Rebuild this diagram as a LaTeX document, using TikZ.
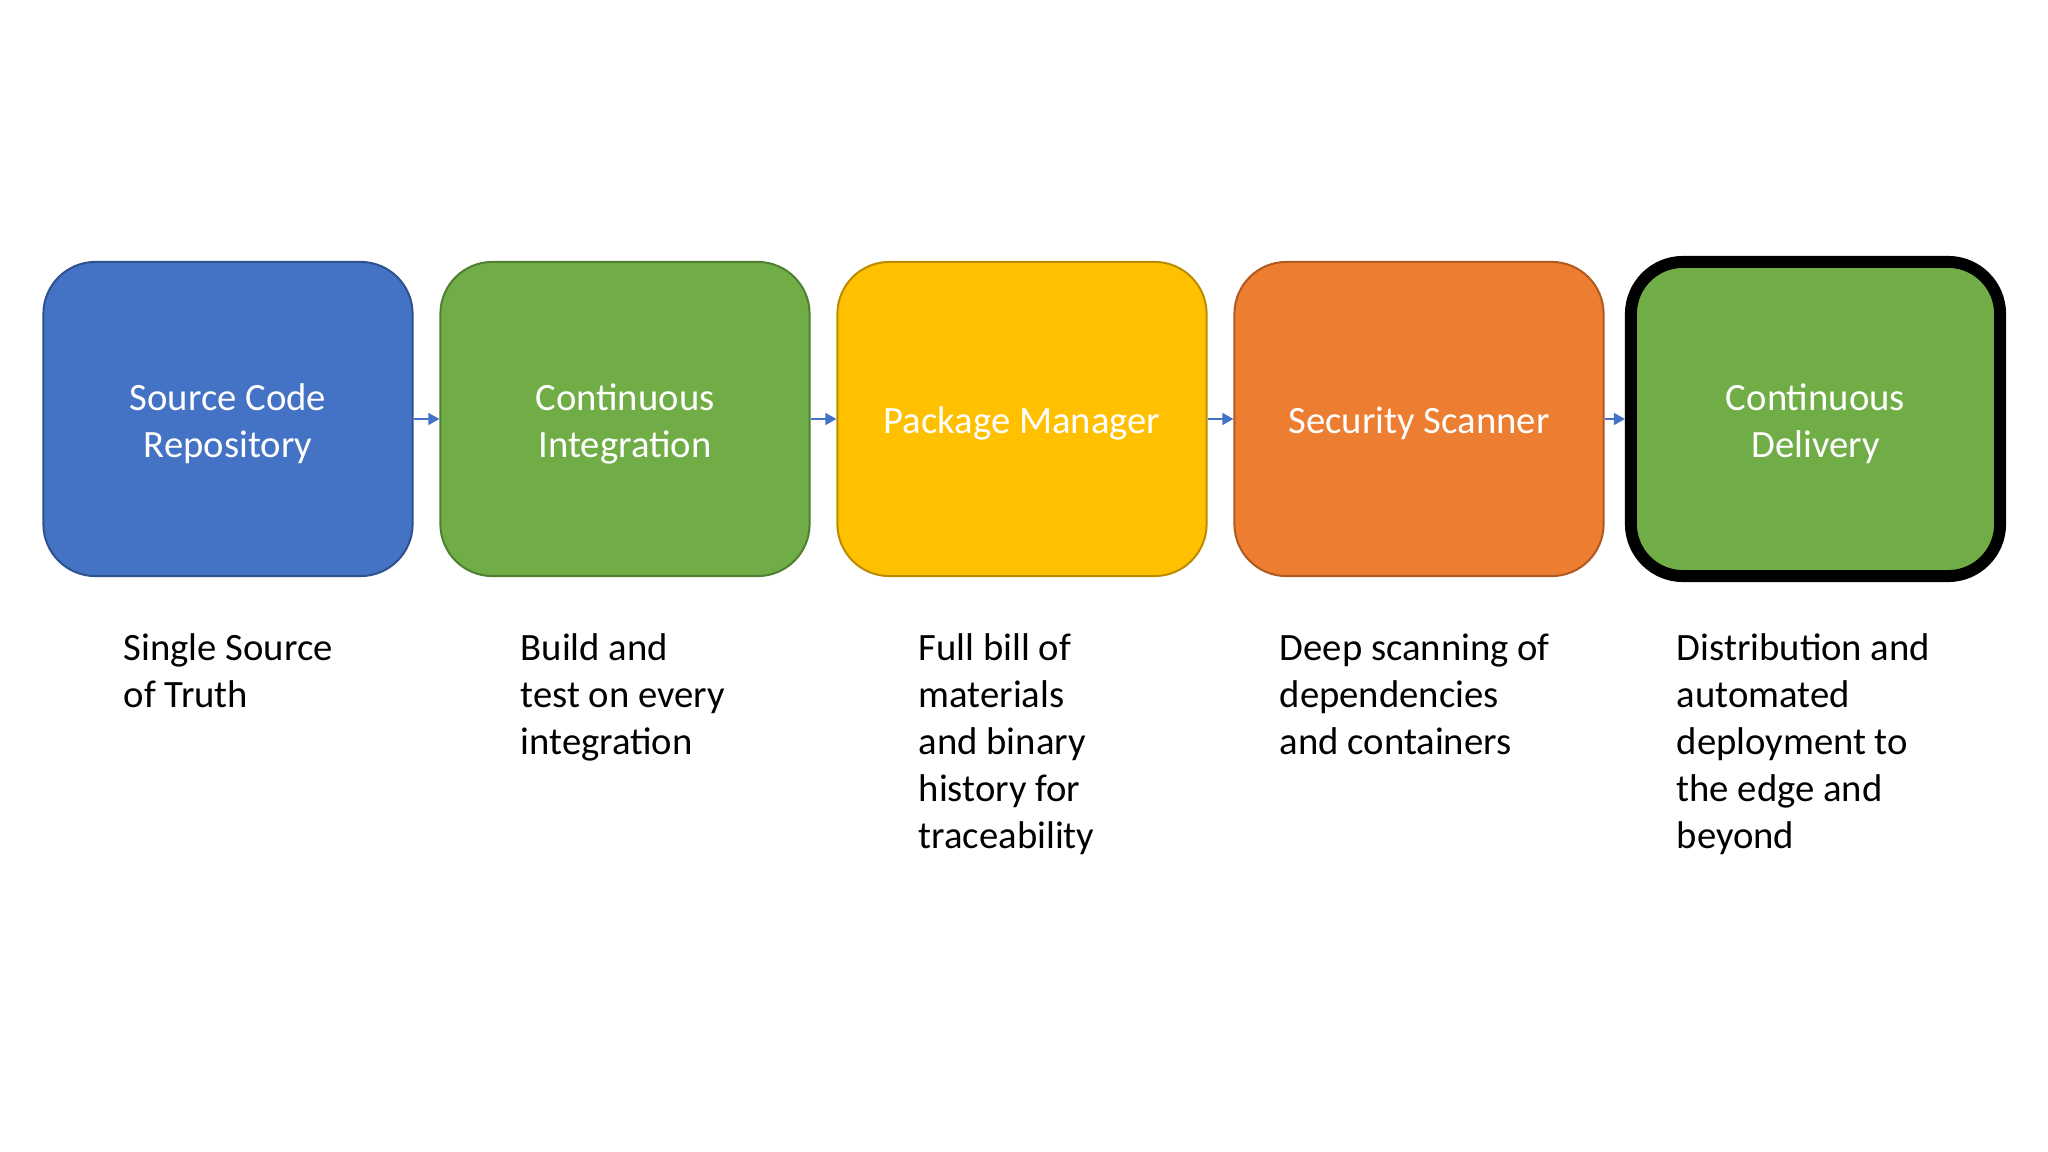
\documentclass[tikz,border=0pt]{standalone}
\usepackage{fontspec}
\setmainfont{Carlito}
\usetikzlibrary{arrows.meta}
\definecolor{cblue}{HTML}{4472C4}
\definecolor{cbluel}{HTML}{2F528F}
\definecolor{cgreen}{HTML}{70AD47}
\definecolor{cgreenl}{HTML}{507E32}
\definecolor{cyellow}{HTML}{FFC000}
\definecolor{cyellowl}{HTML}{BC8C00}
\definecolor{corange}{HTML}{ED7D31}
\definecolor{corangel}{HTML}{AE5A21}
\newcommand{\boxtxt}[1]{\raisebox{-1.5pt}[\height][\depth]{\begin{tabular}{@{}c@{}}#1\end{tabular}}}
\newcommand{\desctxt}[1]{\begin{tabular}[t]{@{}l@{}}#1\end{tabular}}
\tikzset{
  stagebox/.style={rectangle, rounded corners=0.52cm, minimum width=3.69cm, minimum height=3.14cm,
    text=white, font=\fontsize{11pt}{13.4pt}\selectfont, line width=0.57pt, inner sep=0pt},
  desc/.style={anchor=base west, inner sep=0pt, font=\fontsize{11pt}{13.4pt}\selectfont, text=black},
  arr/.style={draw=cblue, line width=0.45pt, -{Triangle[length=0.11cm,width=0.12cm]}}
}
\begin{document}
\begin{tikzpicture}[x=0.01cm,y=-0.01cm]
\useasboundingbox[fill=white] (0,0) rectangle (2048,1152);
\node[stagebox, fill=cblue, draw=cbluel] (b1) at (228,419) {\boxtxt{Source Code\\Repository}};
\node[stagebox, fill=cgreen, draw=cgreenl] (b2) at (625,419) {\boxtxt{Continuous\\Integration}};
\node[stagebox, fill=cyellow, draw=cyellowl] (b3) at (1022,419) {\boxtxt{Package Manager}};
\node[stagebox, fill=corange, draw=corangel] (b4) at (1419,419) {\boxtxt{Security Scanner}};
\node[stagebox, fill=cgreen, draw=black, line width=3.4pt] (b5) at (1815.5,419) {\boxtxt{Continuous\\Delivery}};
\draw[arr] (b1.east) -- (b2.west);
\draw[arr] (b2.east) -- (b3.west);
\draw[arr] (b3.east) -- (b4.west);
\draw[arr] (b4.east) -- (b5.west);
\node[desc] (d1) at (123,660) {\desctxt{Single Source\\of Truth}};
\node[desc] (d2) at (520,660) {\desctxt{Build and\\test on every\\integration}};
\node[desc] (d3) at (918,660) {\desctxt{Full bill of\\materials\\and binary\\history for\\traceability}};
\node[desc] (d4) at (1279,660) {\desctxt{Deep scanning of\\dependencies\\and containers}};
\node[desc] (d5) at (1676,660) {\desctxt{Distribution and\\automated\\deployment to\\the edge and\\beyond}};
\end{tikzpicture}
\end{document}
